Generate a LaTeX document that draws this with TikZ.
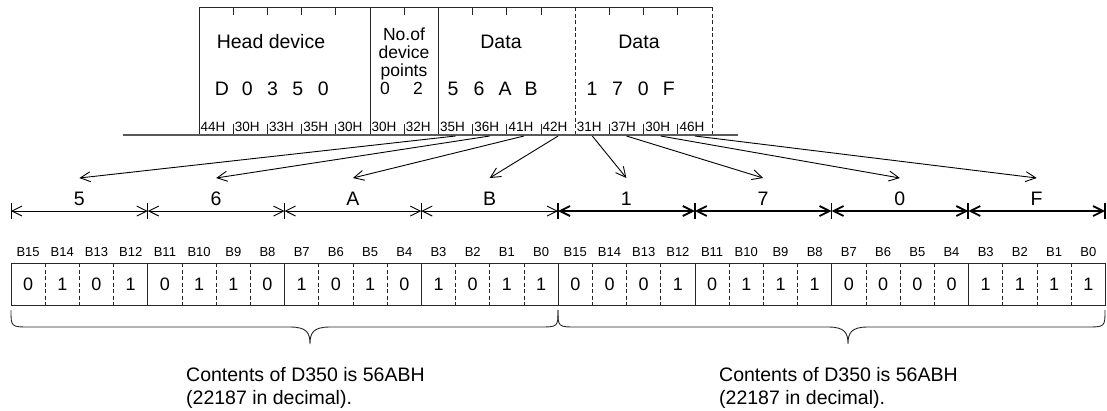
\documentclass[tikz,border=0pt]{standalone}
\usepackage{fontspec}
\setmainfont{Liberation Sans}
\usetikzlibrary{arrows.meta}
\newcommand{\fsz}[1]{\fontsize{#1}{#1}\selectfont}

\begin{document}
\begin{tikzpicture}[x=1pt, y=-1pt, >={Straight Barb[length=10pt,width=10pt]},
  ln/.style={line width=0.9pt, draw=black!85},
  thk/.style={line width=1.8pt, draw=black},
  dsh/.style={ln, dash pattern=on 4pt off 2.5pt},
  big/.style={font=\fsz{19.5}, inner sep=0pt},
  mid/.style={font=\fsz{17.5}, inner sep=0pt, anchor=base},
  hexl/.style={font=\fsz{13.5}, inner sep=0pt, anchor=west},
  bitl/.style={font=\fsz{13}, inner sep=0pt},
  bitv/.style={font=\fsz{18}, inner sep=0pt}]
\useasboundingbox (0,0) rectangle (1107,410);
% sent character string
\draw[ln] (199,135) -- (199,7) -- (712,7);
\draw[ln] (370,7) -- (370,135) (438,7) -- (438,135);
\draw[dsh] (575,7) -- (575,135) (712,7) -- (712,135);
\foreach \i in {1,2,3,4,6,8,9,10,12,13,14}
  \draw[ln] (199+34.2*\i,7) -- ++(0,8) (199+34.2*\i,135) -- ++(0,-11);
\draw[line width=1.8pt, black!65] (123,135) -- (738,135);
\foreach \h [count=\i from 0] in {44H,30H,33H,35H,30H,30H,32H,35H,36H,41H,42H,31H,37H,30H,46H}
  \node[hexl] (h\i) at (200.5+34.2*\i,127) {\h};
\node[big] (head) at (271,42) {Head device};
\node[mid] (no1) at (404,40) {No.of};
\node[mid] (no2) at (404,58) {device};
\node[mid] (no3) at (404,76) {points};
\node[mid] (np0) at (385,94) {0};
\node[mid] (np1) at (418,94) {2};
\node[big] (data1) at (501,42) {Data};
\node[big] (data2) at (639,42) {Data};
\foreach \c [count=\i from 0] in {D,0,3,5,0} \node[big] (hd\i) at (222+25.3*\i,89) {\c};
\foreach \c [count=\i from 0] in {5,6,A,B} \node[big] (da\i) at (453+26*\i,89) {\c};
\foreach \c [count=\i from 0] in {1,7,0,F} \node[big] (db\i) at (592+25.6*\i,89) {\c};
% nibbles
\foreach \c [count=\i from 0] in {5,6,A,B,1,7,0,F} {
  \node[big] (n\i) at (79.4+136.75*\i,199) {\c};
  \coordinate (s\i) at (455.5+34.2*\i,136);
  \coordinate (t\i) at (79.4+136.75*\i,178);
  \draw[ln, draw=black, ->] (s\i) -- (t\i);
}
\foreach \k in {0,...,8} \coordinate (d\k) at (11+136.75*\k,211);
\foreach \a/\b in {0/1,1/2,2/3,3/4} \draw[ln, draw=black, <->] (d\a) -- (d\b);
\foreach \a/\b in {4/5,5/6,6/7,7/8} \draw[thk, <->] (d\a) -- (d\b);
\foreach \k in {0,...,3} \draw[ln, draw=black] ([yshift=8pt]d\k) -- ([yshift=-8pt]d\k);
\foreach \k in {4,...,8} \draw[thk] ([yshift=8pt]d\k) -- ([yshift=-8pt]d\k);
% bit table
\draw[ln] (11,263) rectangle (1105,305);
\foreach \j in {1,...,31} {
  \pgfmathtruncatemacro\m{mod(\j,4)}
  \ifnum\m=0 \draw[ln] (11+34.2*\j,263) -- (11+34.2*\j,305);
  \else \draw[dsh] (11+34.2*\j,263) -- (11+34.2*\j,305); \fi
}
\foreach \b [count=\j from 0] in {B15,B14,B13,B12,B11,B10,B9,B8,B7,B6,B5,B4,B3,B2,B1,B0,
  B15,B14,B13,B12,B11,B10,B9,B8,B7,B6,B5,B4,B3,B2,B1,B0}
  \node[bitl] (b\j) at (28.1+34.2*\j,252) {\b};
\foreach \v [count=\j from 0] in {0,1,0,1,0,1,1,0,1,0,1,0,1,0,1,1,0,0,0,1,0,1,1,1,0,0,0,0,1,1,1,1}
  \node[bitv] (v\j) at (28.1+34.2*\j,284) {\v};
% braces
\draw[ln] (11,310) .. controls (11,327) .. (30,327) -- (290,327)
  .. controls (307,327) and (310,333) .. (310,344)
  .. controls (310,333) and (313,327) .. (330,327) -- (539,327)
  .. controls (558,327) .. (558,310);
\draw[ln] (558,310) .. controls (558,327) .. (577,327) -- (828,327)
  .. controls (845,327) and (848,333) .. (848,344)
  .. controls (848,333) and (851,327) .. (868,327) -- (1086,327)
  .. controls (1105,327) .. (1105,310);
\node[big, anchor=base west] (c1a) at (186,381) {Contents of D350 is 56ABH};
\node[big, anchor=base west] (c1b) at (186,404) {(22187 in decimal).};
\node[big, anchor=base west] (c2a) at (719,381) {Contents of D350 is 56ABH};
\node[big, anchor=base west] (c2b) at (719,404) {(22187 in decimal).};
\end{tikzpicture}
\end{document}
